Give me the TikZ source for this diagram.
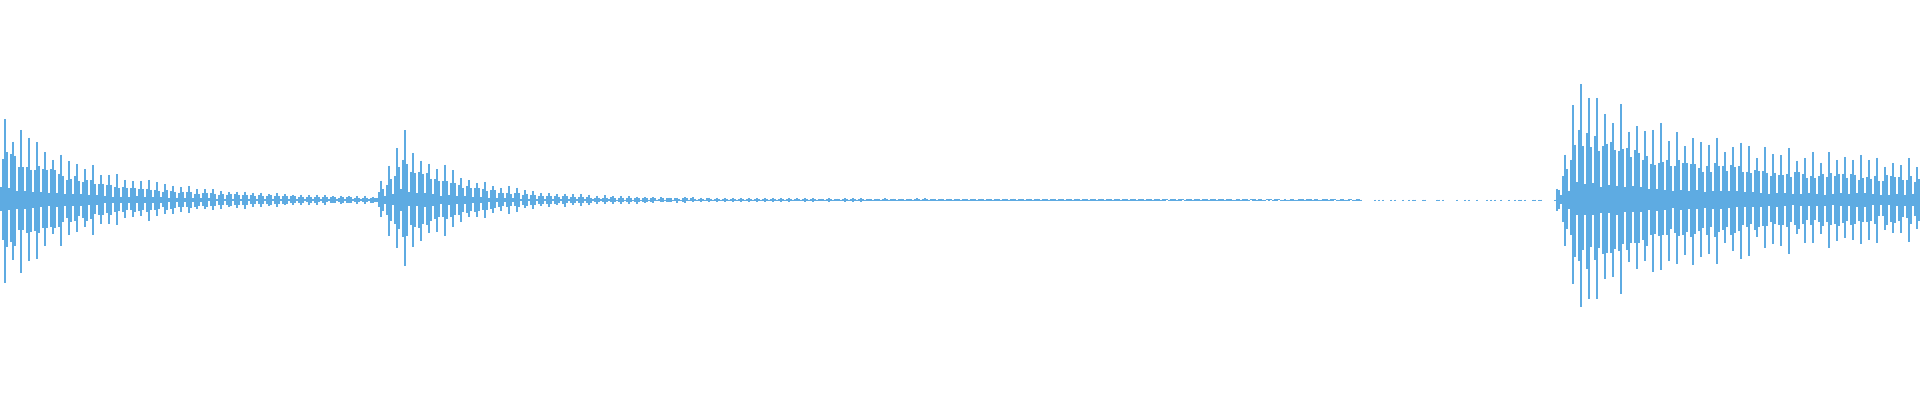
\documentclass[tikz,border=0pt]{standalone}
\definecolor{wavecol}{RGB}{94,171,226}
\tikzset{every picture/.style={line width=0.75pt},
  sample/.style={draw=wavecol,line width=1.7pt}}
\newcommand{\decay}[2]{exp(min(max(-(#1)/(#2),-15),0))}
\begin{document}
\begin{tikzpicture}[x=1pt,y=1pt]
\useasboundingbox (0,-200) rectangle (1920,200);
\pgfmathsetseed{4711}
% waveform samples
\foreach \i in {0,2,...,1918}{
  \pgfmathsetmacro{\ea}{(\i<375)*(80*\decay{\i}{95}+2.5)}
  \pgfmathsetmacro{\eb}{(\i>=375)*(\i<1555)*((\i<400)*(8+2*(\i-375)) + (\i>=400)*(64*\decay{\i-400}{55}+4*\decay{\i-400}{300}+(\i<1360)*0.8))}
  \pgfmathsetmacro{\ec}{(\i>=1555)*((\i<1576)*(6+5*(\i-1555)) + (\i>=1576)*(62*\decay{\i-1576}{80}+56*\decay{\i-1576}{850}))}
  \pgfmathsetmacro{\env}{\ea+\eb+\ec}
  \pgfmathsetmacro{\amp}{max(\env*(0.15+0.85*abs(sin(mod(\i,16)*22.5))^2)*(0.8+0.3*rnd),0.5)}
  \pgfmathsetmacro{\low}{\amp*(0.85+0.2*rnd)}
  \pgfmathparse{(\env>0.7)||(rnd<0.3)}
  \ifnum\pgfmathresult>0
    \draw[sample] (\i+1,\amp) -- (\i+1,-\low);
  \fi
}
\end{tikzpicture}
\end{document}
